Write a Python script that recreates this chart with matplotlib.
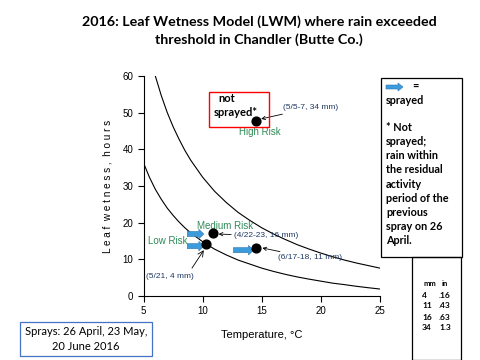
"""Leaf Wetness Model chart, Chandler 2016."""

import matplotlib

matplotlib.use("Agg")
import matplotlib.pyplot as plt
from matplotlib.patches import Rectangle, FancyArrow

# threshold curves (temperature degC -> leaf wetness hours)
upper_temp = [6, 6.5, 7, 7.5, 8, 8.5, 9, 10, 11, 12, 13, 14, 15, 16, 17, 18, 19,
              20, 21, 22, 23, 24, 25]
upper_wet = [60.0, 54.7, 50.1, 46.2, 42.8, 39.7, 37.0, 32.4, 28.6, 25.5, 22.8, 20.6,
             18.6, 16.9, 15.4, 14.0, 12.8, 11.7, 10.7, 9.8, 9.0, 8.3, 7.6]
lower_temp = [5, 5.5, 6, 6.5, 7, 7.5, 8, 8.5, 9, 10, 11, 12, 13, 14, 15, 16, 17,
              18, 19, 20, 21, 22, 23, 24, 25]
lower_wet = [36.3, 32.4, 29.1, 26.4, 24.0, 22.0, 20.2, 18.6, 17.2, 14.8, 12.8, 11.2,
             9.8, 8.7, 7.6, 6.7, 5.9, 5.2, 4.6, 4.05, 3.5, 3.1, 2.65, 2.26, 1.9]

# rain events
event_dates = ["5/5-7", "4/22-23", "5/21", "6/17-18"]
event_temp = [14.5, 10.9, 10.3, 14.5]
event_wet = [47.7, 17.2, 14.2, 13.1]
event_mm = [34, 16, 4, 11]

# spray arrows (start, end temperature) for the sprayed events
spray_event = [1, 2, 3]
spray_from = [8.7, 8.7, 12.6]
spray_to = [10.1, 10.1, 14.3]

mm_vals = ["4", "11", "16", "34"]
in_vals = [".16", ".43", ".63", "1.3"]

NAVY = "#1F3864"
GREEN = "#2E8B57"
ARROW_BLUE = "#3C9BDB"
NARROW = ["Liberation Sans Narrow", "Liberation Sans", "DejaVu Sans"]
CAL = ["Lato", "DejaVu Sans"]

fig = plt.figure(figsize=(4.8, 3.6), dpi=100)
ax = fig.add_axes([143.5 / 480, 64 / 360, 236.5 / 480, 220 / 360])

ax.plot(upper_temp, upper_wet, color="black", lw=0.8)
ax.plot(lower_temp, lower_wet, color="black", lw=0.8)
ax.scatter(event_temp, event_wet, s=40, color="black", zorder=5)

ax.set_xlim(5, 25)
ax.set_ylim(0, 60)
ax.set_xticks([5, 10, 15, 20, 25])
ax.set_yticks(range(0, 61, 10))
ax.tick_params(direction="out", length=4, width=0.8, labelsize=7)
for lab in ax.get_xticklabels() + ax.get_yticklabels():
    lab.set_family(NARROW)
ax.spines["top"].set_visible(False)
ax.spines["right"].set_visible(False)
ax.set_xlabel("Temperature, °C", family=NARROW, fontsize=8, labelpad=10)
ax.set_ylabel("L e a f  w e t n e s s ,  h o u r s", family=NARROW, fontsize=7.2, labelpad=7)

ARROW = dict(arrowstyle="->", color="black", lw=0.6, shrinkA=0, shrinkB=0)


def note(i, tx, ty, hx, hy):
    """Rain-event label with a thin pointer arrow toward its point."""
    ax.annotate(f"({event_dates[i]}, {event_mm[i]} mm)", xy=(hx, hy), xytext=(tx, ty),
                fontsize=6, color=NAVY, family=NARROW, va="center", ha="left",
                arrowprops=ARROW)


note(0, 16.8, 51.3, event_temp[0] + 0.45, event_wet[0] + 0.6)
note(1, 12.65, 16.4, event_temp[1] + 0.45, event_wet[1] - 0.3)
note(3, 16.4, 10.4, event_temp[3] + 0.55, event_wet[3])
ax.text(5.2, 5.3, f"({event_dates[2]}, {event_mm[2]} mm)", fontsize=6, color=NAVY,
        family=NARROW, va="center")
ax.annotate("", xy=(event_temp[2] - 0.2, event_wet[2] - 1.7), xytext=(9.1, 7.6),
            arrowprops=ARROW)

ax.text(13.1, 44.8, "High Risk", fontsize=7, color=GREEN, family=NARROW, va="center")
ax.text(9.5, 19.2, "Medium Risk", fontsize=7, color=GREEN, family=NARROW, va="center")
ax.text(5.4, 15.0, "Low Risk", fontsize=7, color=GREEN, family=NARROW, va="center")

# fat blue arrows = sprayed
for i, x0, x1 in zip(spray_event, spray_from, spray_to):
    y = event_wet[i] - (0.3 if i == 1 else 0.6)
    ax.add_patch(FancyArrow(x0, y, x1 - x0, 0, width=1.4, head_width=2.6,
                            head_length=0.42, length_includes_head=True,
                            facecolor=ARROW_BLUE, edgecolor="#2E75B6", lw=0.4, zorder=4))

# "not sprayed*" box
fig.patches.append(Rectangle((209 / 480, 1 - 127 / 360), 60 / 480, 35 / 360,
                             transform=fig.transFigure, fill=False, ec="red", lw=1.0))
fig.text(218 / 480, 1 - 99 / 360, "not", family=CAL, fontsize=8, weight="bold", va="center")
fig.text(214 / 480, 1 - 113 / 360, "sprayed*", family=CAL, fontsize=8, weight="bold", va="center")

fig.suptitle("2016: Leaf Wetness Model (LWM) where rain exceeded\nthreshold in Chandler (Butte Co.)",
             x=259 / 480, y=1 - 15 / 360, family=CAL, fontsize=10.3, weight="bold", va="top",
             linespacing=1.55)

# legend box on the right
fig.patches.append(Rectangle((381 / 480, 1 - 257 / 360), 81 / 480, 179 / 360,
                             transform=fig.transFigure, fill=False, ec="black", lw=0.9))
fig.patches.append(FancyArrow(386 / 480, 1 - 87 / 360, 17 / 480, 0, width=4 / 360,
                              head_width=8 / 360, head_length=5 / 480,
                              length_includes_head=True, transform=fig.transFigure,
                              facecolor=ARROW_BLUE, edgecolor="#2E75B6", lw=0.4))
fig.text(412 / 480, 1 - 86 / 360, "=", family=CAL, fontsize=7.8, weight="bold", va="center")
fig.text(386 / 480, 1 - 101 / 360, "sprayed", family=CAL, fontsize=7.8, weight="bold", va="center")
fig.text(386 / 480, 1 - 122 / 360,
         "* Not\nsprayed;\nrain within\nthe residual\nactivity\nperiod of the\nprevious\nspray on 26\nApril.",
         family=CAL, fontsize=7.8, weight="bold", va="top", linespacing=1.35)

# mm / in table
fig.patches.append(Rectangle((412 / 480, 1 - 360 / 360), 49 / 480, 103 / 360,
                             transform=fig.transFigure, fill=False, ec="black", lw=0.9))
fig.text(423 / 480, 1 - 283 / 360, "mm", family=CAL, fontsize=5.5, weight="bold", va="center")
fig.text(442 / 480, 1 - 283 / 360, "in", family=CAL, fontsize=5.5, weight="bold", va="center")
for k, (m, n) in enumerate(zip(mm_vals, in_vals)):
    y = 1 - (295 + 11 * k) / 360
    fig.text(422 / 480, y, m, family=CAL, fontsize=6, weight="bold", va="center")
    fig.text(439 / 480, y, n, family=CAL, fontsize=6, weight="bold", va="center")

# sprays box
fig.text(86 / 480, 1 - 339 / 360, "Sprays: 26 April, 23 May,\n20 June 2016", family=CAL,
         fontsize=8, ha="center", va="center", linespacing=1.35,
         bbox=dict(boxstyle="square,pad=0.4", fc="white", ec="#4472C4", lw=0.9))

fig.savefig("out.png", dpi=100)
